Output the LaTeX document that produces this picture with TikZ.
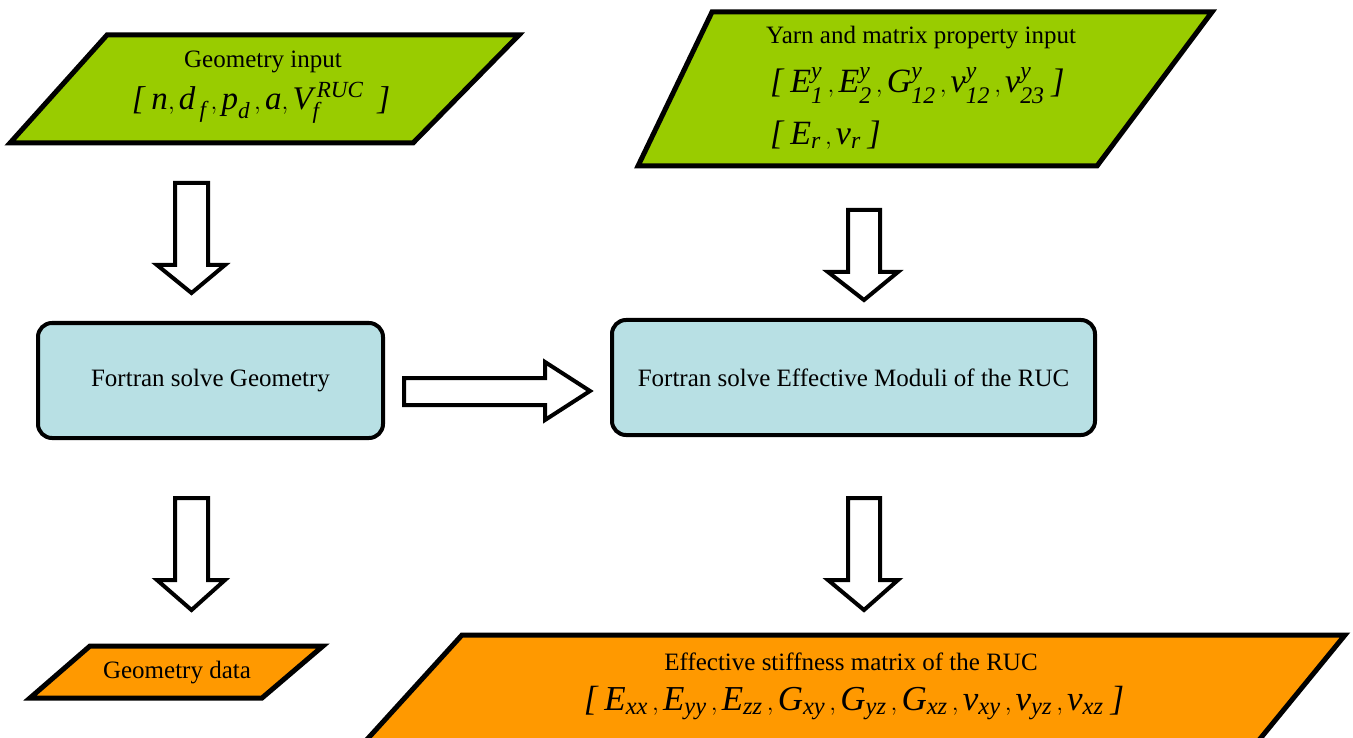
\documentclass[tikz,border=0pt]{standalone}
\usepackage{amsmath}
\usepackage{fontspec}
\setmainfont{Liberation Serif}
\newcommand\ti[1]{\textit{#1}}
\definecolor{ingreen}{HTML}{99CC00}
\definecolor{outorange}{HTML}{FF9900}
\definecolor{procblue}{HTML}{B8E0E4}
\tikzset{
  parabox/.style={draw=black,line width=5pt,line join=miter},
  procbox/.style={draw=black,line width=4pt,fill=procblue,rounded corners=14pt},
  blockarrow/.style={draw=black,line width=4pt,fill=white,line join=miter},
  lbl/.style={inner sep=0pt,align=center,font=\fontsize{25}{29}\selectfont},
  mlbl/.style={inner sep=0pt,font=\fontsize{#1}{#1}\selectfont},
  mlbl/.default=33,
}
\begin{document}
\begin{tikzpicture}[x=1pt,y=-1pt]
\useasboundingbox (0,0) rectangle (1353,738);
% input parallelograms
\draw[parabox,fill=ingreen] (107,35) -- (519,35) -- (413,143) -- (10,143) -- cycle;
\draw[parabox,fill=ingreen] (712,12) -- (1212,12) -- (1097,166) -- (638,166) -- cycle;
% output parallelograms
\draw[parabox,fill=outorange] (90,646) -- (323,646) -- (262,698) -- (30,698) -- cycle;
\draw[parabox,fill=outorange] (462,635) -- (1345,635) -- (1255,745) -- (362,745) -- cycle;
% process boxes
\node[procbox,minimum width=345pt,minimum height=115pt] (fg) at (210.5,380.5) {};
\node[procbox,minimum width=483pt,minimum height=115pt] (fe) at (853.5,377.5) {};
% texts
\node[lbl] (gi) at (263,62) {Geometry input};
\node[mlbl=33] (gim) at (261,103) {$\ti{[}\;\ti{n},\ti{d}_{\,\ti{f}}\,,\ti{p}_{\ti{d}}\,,\ti{a},{\ti{V}\,}_{\!\ti{f}}^{\ti{RUC}}\;\;\ti{]}$};
\node[lbl,anchor=west] (yi) at (766,38) {Yarn and matrix property input};
\node[mlbl=34,anchor=west] (yim) at (770,86) {$\ti{[}\;\ti{E}_{\ti{1}}^{\ti{y}}\,,\ti{E}_{\ti{2}}^{\ti{y}}\,,\ti{G}_{\ti{12}}^{\ti{y}}\,,\ti{ν}_{\ti{12}}^{\ti{y}}\,,\ti{ν}_{\ti{23}}^{\ti{y}}\;\ti{]}$};
\node[mlbl=34,anchor=west] (yir) at (770,135) {$\ti{[}\;\ti{E}_{\ti{r}}\,,\ti{ν}_{\ti{r}}\;\ti{]}$};
\node[lbl] at (fg.center) {Fortran solve Geometry};
\node[lbl] at (fe.center) {Fortran solve Effective Moduli of the RUC};
\node[lbl] (gd) at (177,673) {Geometry data};
\node[lbl] (es) at (851,662) {Effective stiffness matrix of the RUC};
\node[mlbl=35] (esm) at (854,703) {$\ti{[}\;\ti{E}_{\ti{xx}}\,,\ti{E}_{\ti{yy}}\,,\ti{E}_{\ti{zz}}\,,\ti{G}_{\ti{xy}}\,,\ti{G}_{\ti{yz}}\,,\ti{G}_{\ti{xz}}\,,\ti{ν}_{\ti{xy}}\,,\ti{ν}_{\ti{yz}}\,,\ti{ν}_{\ti{xz}}\;\ti{]}$};
% block arrows
\draw[blockarrow] (175,183) -- (208,183) -- (208,265) -- (225,265) -- (191.5,293) -- (157,265) -- (175,265) -- cycle;
\draw[blockarrow] (848,210) -- (880,210) -- (880,272) -- (898,272) -- (864,300) -- (828,272) -- (848,272) -- cycle;
\draw[blockarrow] (175,498) -- (208,498) -- (208,580) -- (225,580) -- (191.5,610) -- (157,580) -- (175,580) -- cycle;
\draw[blockarrow] (848,498) -- (880,498) -- (880,580) -- (898,580) -- (864,610) -- (828,580) -- (848,580) -- cycle;
\draw[blockarrow] (404,378) -- (545,378) -- (545,362) -- (590,391) -- (545,420) -- (545,405) -- (404,405) -- cycle;
\end{tikzpicture}
\end{document}
